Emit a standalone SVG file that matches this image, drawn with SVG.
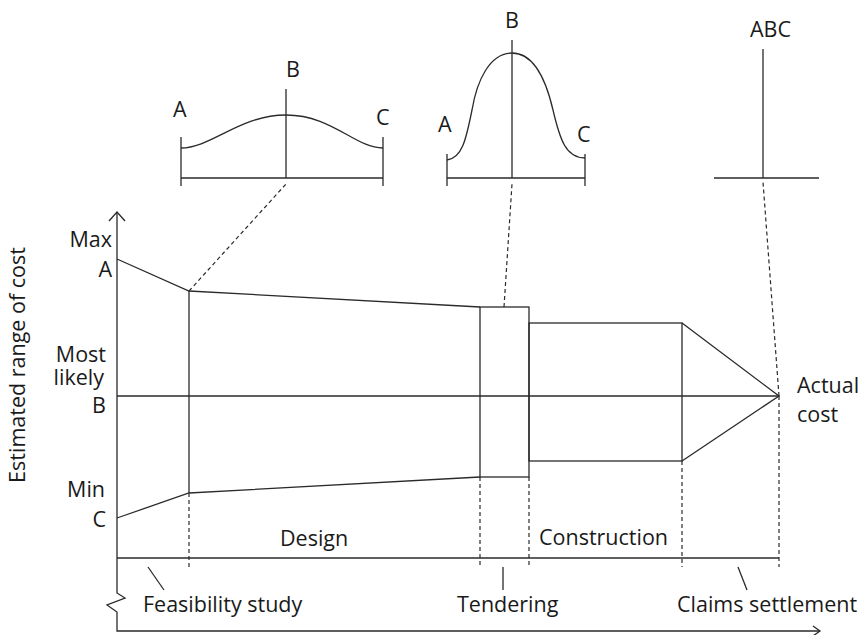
<svg xmlns="http://www.w3.org/2000/svg" width="866" height="635" viewBox="0 0 866 635">
<style>
  .ln{fill:none;stroke:#2a2a2a;stroke-width:1.3;stroke-linecap:butt;stroke-linejoin:miter}
  .ds{fill:none;stroke:#2a2a2a;stroke-width:1.2;stroke-dasharray:4 3}
  .t{font-family:"Open Sans","Liberation Sans",sans-serif;font-size:21.5px;fill:#1a1a1a}
  .e{text-anchor:end}
  .m{text-anchor:middle}
</style>
<rect width="866" height="635" fill="#fff"/>

<g id="axes">
  <path class="ln" d="M117,212 L117,593 L125,598 L107,605 L117,612 L117,631 L820,631"/>
  <path class="ln" d="M109,221 L117,212 L125,221"/>
  <path class="ln" d="M813,626 L820,631 L813,636"/>
  <line class="ln" x1="117" y1="558" x2="779" y2="558"/>
  <text class="t m" transform="translate(25,365) rotate(-90)">Estimated range of cost</text>
</g>

<g id="y-labels">
  <text class="t e" x="112" y="247">Max</text>
  <text class="t e" x="112" y="277">A</text>
  <text class="t e" x="106" y="362">Most</text>
  <text class="t e" x="104" y="385">likely</text>
  <text class="t e" x="106" y="413">B</text>
  <text class="t e" x="105" y="497">Min</text>
  <text class="t e" x="106" y="527">C</text>
</g>

<g id="dist-feasibility">
  <line class="ln" x1="181" y1="137" x2="181" y2="186"/>
  <line class="ln" x1="383" y1="137" x2="383" y2="186"/>
  <line class="ln" x1="181" y1="178" x2="383" y2="178"/>
  <line class="ln" x1="286" y1="89" x2="286" y2="178"/>
  <path class="ln" d="M181,148 C211,148 240,115 286,115 C332,115 355,148 383,148"/>
  <text class="t" x="173" y="117">A</text>
  <text class="t" x="286" y="77">B</text>
  <text class="t" x="376" y="125">C</text>
</g>

<g id="dist-tendering">
  <line class="ln" x1="447" y1="154" x2="447" y2="186"/>
  <line class="ln" x1="585" y1="154" x2="585" y2="186"/>
  <line class="ln" x1="447" y1="178" x2="585" y2="178"/>
  <line class="ln" x1="512" y1="40" x2="512" y2="178"/>
  <path class="ln" d="M447,160 C462,158 466,140 472,110 C477,80 490,53 512,53 C534,53 546,80 553,110 C560,140 566,158 585,158"/>
  <text class="t" x="438" y="132">A</text>
  <text class="t" x="505" y="28">B</text>
  <text class="t" x="577" y="142">C</text>
</g>

<g id="dist-actual">
  <line class="ln" x1="763" y1="49" x2="763" y2="178"/>
  <line class="ln" x1="714" y1="178" x2="819" y2="178"/>
  <text class="t" x="750" y="37">ABC</text>
</g>

<g id="range-funnel">
  <path class="ln" d="M117,259 L189,291 L480,307"/>
  <path class="ln" d="M117,518 L189,493 L480,477"/>
  <line class="ln" x1="189" y1="291" x2="189" y2="493"/>
  <rect class="ln" x="480" y="307" width="49" height="170"/>
  <rect class="ln" x="529" y="323" width="153" height="138"/>
  <path class="ln" d="M682,323 L779,396 L682,461"/>
  <line class="ln" x1="117" y1="396" x2="779" y2="396"/>
  <text class="t" x="797" y="393">Actual</text>
  <text class="t" x="797" y="422">cost</text>
</g>

<g id="connectors">
  <line class="ds" x1="189" y1="291" x2="286" y2="184"/>
  <line class="ds" x1="504" y1="307" x2="512" y2="184"/>
  <line class="ds" x1="779" y1="396" x2="763" y2="182"/>
  <line class="ds" x1="189" y1="493" x2="189" y2="567"/>
  <line class="ds" x1="480" y1="477" x2="480" y2="567"/>
  <line class="ds" x1="529" y1="477" x2="529" y2="567"/>
  <line class="ds" x1="682" y1="461" x2="682" y2="567"/>
  <line class="ds" x1="779" y1="396" x2="779" y2="567"/>
  <line class="ln" x1="148" y1="567" x2="164" y2="590"/>
  <line class="ln" x1="503" y1="567" x2="503" y2="590"/>
  <line class="ln" x1="738" y1="567" x2="747" y2="590"/>
</g>

<g id="phases">
  <text class="t" x="280" y="546">Design</text>
  <text class="t" x="539" y="545">Construction</text>
  <text class="t" x="143" y="612">Feasibility study</text>
  <text class="t" x="457" y="612">Tendering</text>
  <text class="t" x="677" y="612">Claims settlement</text>
</g>
</svg>
